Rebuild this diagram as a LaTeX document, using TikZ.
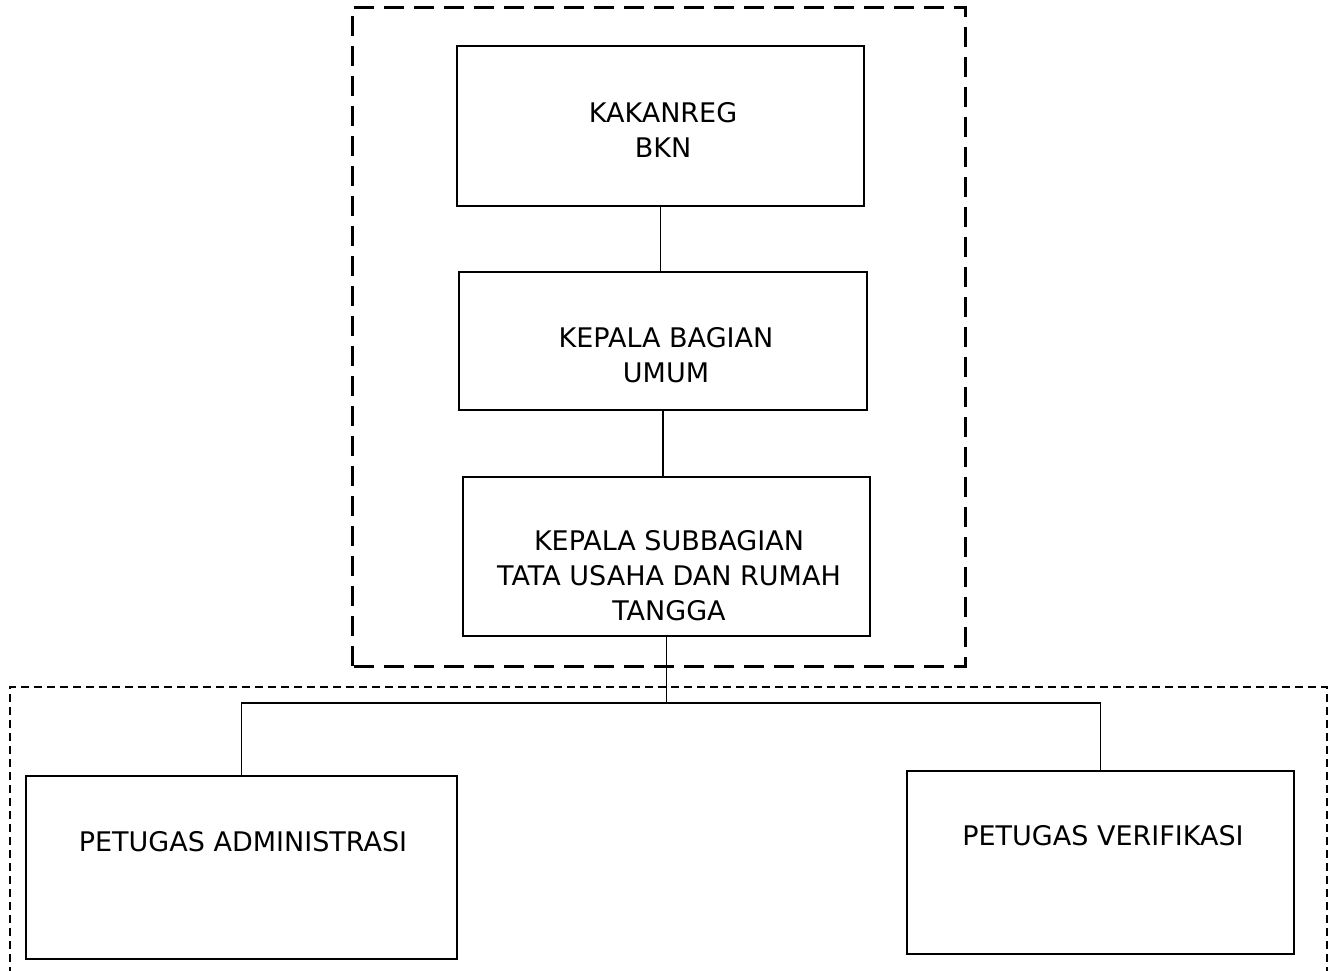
\documentclass[tikz,border=0pt]{standalone}
\usepackage{fontspec}
\setmainfont{DejaVu Sans}
\begin{document}
\begin{tikzpicture}[x=1pt,y=-1pt,
  box/.style={draw,line width=2.2pt,inner sep=0pt},
  lbl/.style={align=center,font=\fontsize{27}{35}\selectfont,inner sep=0pt},
  conn/.style={line width=1.8pt},
  bigdash/.style={line width=3pt,dash pattern=on 20pt off 10pt},
  smalldash/.style={line width=2pt,dash pattern=on 8pt off 5pt}]
\useasboundingbox (0,0) rectangle (1335,971);
% dashed frames
\draw[bigdash] (352,666) -- (352,8) -- (965,8) -- (965,666) -- cycle;
\draw[smalldash] (10,975) -- (10,687) -- (1327,687) -- (1327,975);
% boxes
\node[box,minimum width=407pt,minimum height=160pt] (k) at (660.5,126) {};
\node[lbl] at (663,130) {KAKANREG\\BKN};
\node[box,minimum width=408pt,minimum height=138pt] (b) at (663,341) {};
\node[lbl] at (666,355) {KEPALA BAGIAN\\UMUM};
\node[box,minimum width=407pt,minimum height=159pt] (s) at (666.5,556.5) {};
\node[lbl] at (669,576) {KEPALA SUBBAGIAN\\TATA USAHA DAN RUMAH\\TANGGA};
\node[box,minimum width=431pt,minimum height=183pt] (a) at (241.5,867.5) {};
\node[lbl] at (243,842) {PETUGAS ADMINISTRASI};
\node[box,minimum width=387pt,minimum height=183pt] (v) at (1100.5,862.5) {};
\node[lbl] at (1103,836) {PETUGAS VERIFIKASI};
% connectors
\draw[conn] (k.south) -- (k.south |- b.north);
\draw[conn] (b.south) -- (b.south |- s.north);
\coordinate (j) at (s.south |- 0,703);
\draw[conn] (s.south) -- (j);
\draw[conn] (a.north) |- (j) -| (v.north);
\end{tikzpicture}
\end{document}
